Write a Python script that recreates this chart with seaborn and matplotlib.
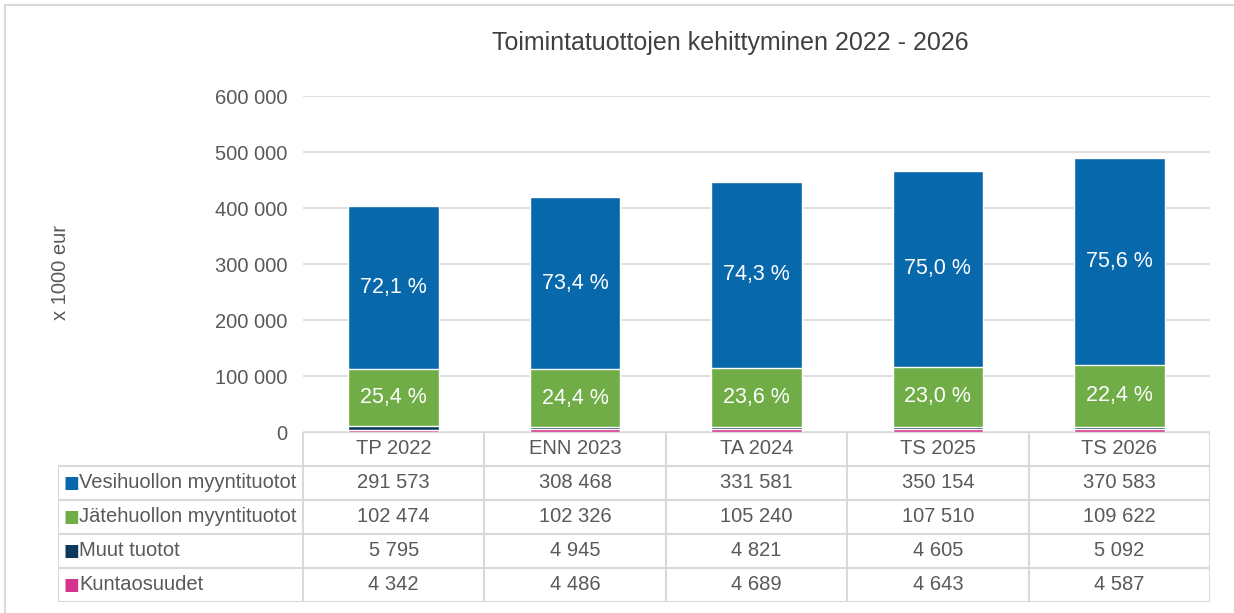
import numpy as np
import pandas as pd
import matplotlib
matplotlib.use("Agg")
import matplotlib.pyplot as plt
import seaborn as sns

# Data (x 1000 eur)
categories = ["TP 2022", "ENN 2023", "TA 2024", "TS 2025", "TS 2026"]
series_names = ["Vesihuollon myyntituotot", "Jätehuollon myyntituotot",
                "Muut tuotot", "Kuntaosuudet"]
vesihuolto = [291573, 308468, 331581, 350154, 370583]
jatehuolto = [102474, 102326, 105240, 107510, 109622]
muut_tuotot = [5795, 4945, 4821, 4605, 5092]
kuntaosuudet = [4342, 4486, 4689, 4643, 4587]
y_ticks = [0, 100000, 200000, 300000, 400000, 500000, 600000]

colors = ["#0868AC", "#70AD47", "#0D3A5C", "#D6338C"]
text_grey = "#595959"
line_grey = "#D9D9D9"

sns.set_style("white")
plt.rcParams["font.family"] = ["Liberation Sans", "DejaVu Sans"]


def fi_num(v):
    return f"{v:,.0f}".replace(",", " ")


df = pd.DataFrame({
    "kategoria": categories,
    "Vesihuollon myyntituotot": vesihuolto,
    "Jätehuollon myyntituotot": jatehuolto,
    "Muut tuotot": muut_tuotot,
    "Kuntaosuudet": kuntaosuudet,
})
# stacking order from bottom: Kuntaosuudet, Muut, Jätehuolto, Vesihuolto
stack_order = ["Kuntaosuudet", "Muut tuotot", "Jätehuollon myyntituotot",
               "Vesihuollon myyntituotot"]
cum = df[stack_order].cumsum(axis=1)
total = cum["Vesihuollon myyntituotot"]

fig = plt.figure(figsize=(12.34, 6.13), dpi=100)
W, H = 1234, 613
ax = fig.add_axes([303 / W, 1 - 432 / H, (1210 - 303) / W, (432 - 96) / H])

# draw tallest cumulative first so lower layers sit on top
for name in reversed(stack_order):
    c = colors[series_names.index(name)]
    sns.barplot(x=df["kategoria"], y=cum[name], color=c, saturation=1,
                width=0.5, order=categories, ax=ax, zorder=3)

# percentage labels
for i in range(len(categories)):
    top_v = total[i]
    ves_mid = (cum["Jätehuollon myyntituotot"][i] + top_v) / 2
    jat_mid = (cum["Muut tuotot"][i] + cum["Jätehuollon myyntituotot"][i]) / 2
    ax.text(i, ves_mid, f"{vesihuolto[i] / top_v * 100:.1f} %".replace(".", ","),
            ha="center", va="center", color="white", fontsize=15.5, zorder=5)
    ax.text(i, jat_mid, f"{jatehuolto[i] / top_v * 100:.1f} %".replace(".", ","),
            ha="center", va="center", color="white", fontsize=15.5, zorder=5)

ax.set_ylim(0, 600000)
ax.set_xlim(-0.5, len(categories) - 0.5)
ax.set_yticks(y_ticks)
ax.set_yticklabels([fi_num(v) for v in y_ticks], color=text_grey, fontsize=14.5)
ax.tick_params(axis="y", length=0, pad=11)
ax.set_xticks([])
ax.set_xlabel("")
ax.set_ylabel("")
ax.grid(axis="y", color=line_grey, linewidth=1.2, zorder=0)
for s in ax.spines.values():
    s.set_visible(False)

fig.text(730 / W, 1 - 43 / H, "Toimintatuottojen kehittyminen 2022 - 2026",
         ha="center", va="center", fontsize=18, color="#404040")
fig.text(60 / W, 1 - 272 / H, "x 1000 eur", rotation=90, ha="center",
         va="center", fontsize=14.5, color=text_grey)

# data table below the chart
col_px = (1210 - 303) / len(categories)
label_w = (303 - 58) / col_px
tax = fig.add_axes([58 / W, 1 - 602 / H, (1210 - 58) / W, (602 - 432) / H])
tax.set_xlim(-0.5 - label_w, len(categories) - 0.5)
tax.set_ylim(0, 5)
tax.axis("off")

lw = 1.5
# header row (no label cell)
tax.plot([-0.5, len(categories) - 0.5], [5, 5], color=line_grey, lw=lw)
for j in range(len(categories) + 1):
    tax.plot([j - 0.5, j - 0.5], [0, 5], color=line_grey, lw=lw)
tax.plot([-0.5 - label_w, -0.5 - label_w], [0, 4], color=line_grey, lw=lw)
for r in range(5):
    tax.plot([-0.5 - label_w, len(categories) - 0.5], [r, r],
             color=line_grey, lw=lw)
for j, c in enumerate(categories):
    tax.text(j, 4.5, c, ha="center", va="center", fontsize=14.5, color=text_grey)

rows = [vesihuolto, jatehuolto, muut_tuotot, kuntaosuudet]
for r, (name, vals) in enumerate(zip(series_names, rows)):
    yc = 3.5 - r
    tax.text(-0.5 - label_w + 13 / col_px, yc, "■", ha="center", va="center",
             fontsize=12, color=colors[r], family="DejaVu Sans")
    tax.text(-0.5 - label_w + 21 / col_px, yc, name, ha="left", va="center",
             fontsize=14.5, color=text_grey)
    for j, v in enumerate(vals):
        tax.text(j, yc, fi_num(v), ha="center", va="center", fontsize=14.5,
                 color=text_grey)

# outer frame lines (top and left)
fig.add_artist(plt.Line2D([5 / W, 1], [1 - 5 / H, 1 - 5 / H], color=line_grey,
                          lw=1.5))
fig.add_artist(plt.Line2D([5 / W, 5 / W], [0, 1 - 5 / H], color=line_grey,
                          lw=1.5))

fig.savefig("out.png", dpi=100, facecolor="white")
